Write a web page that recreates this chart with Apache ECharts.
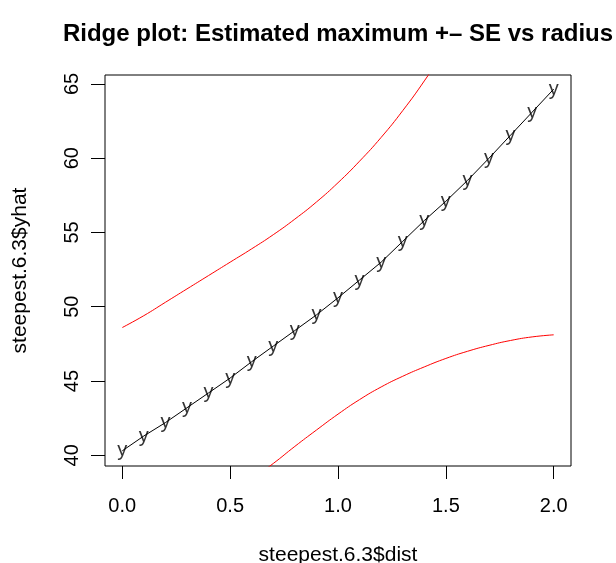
<!DOCTYPE html>
<html>
<head>
<meta charset="utf-8">
<script src="https://cdn.jsdelivr.net/npm/echarts@6/dist/echarts.min.js"></script>
<style>
  html, body { margin: 0; padding: 0; background: #fff; }
  #chart { width: 616px; height: 563px; }
</style>
</head>
<body>
<div id="chart"></div>
<script>
// values
const dist = [0, 0.1, 0.2, 0.3, 0.4, 0.5, 0.6, 0.7, 0.8, 0.9, 1.0, 1.1, 1.2, 1.3, 1.4, 1.5, 1.6, 1.7, 1.8, 1.9, 2.0];
const yhat = [40.3, 41.3, 42.2, 43.2, 44.2, 45.2, 46.3, 47.35, 48.4, 49.45, 50.6, 51.8, 53.0, 54.4, 55.8, 57.1, 58.5, 60.0, 61.55, 63.1, 64.65];
const upper = [48.6, 49.4, 50.3, 51.2, 52.1, 53.0, 53.9, 54.85, 55.9, 57.05, 58.35, 59.8, 61.4, 63.2, 65.2, 67.4, 69.8, 72.4, 75.2, 78.2, 81.4];
const lower = [32.0, 33.2, 34.05, 35.1, 36.2, 37.3, 38.4, 39.45, 40.6, 41.7, 42.77, 43.75, 44.6, 45.32, 45.95, 46.52, 47.0, 47.4, 47.73, 47.97, 48.11];
const xTicks = [0, 0.5, 1.0, 1.5, 2.0];
const yTicks = [40, 45, 50, 55, 60, 65];

const pairs = (ys) => dist.map((d, i) => [d, ys[i]]);
const font = 'Liberation Sans, Arial, sans-serif';

let myChart = echarts.init(document.getElementById('chart'));
let option = {
  animation: false,
  title: {
    text: 'Ridge plot: Estimated maximum +\u2013 SE vs radius',
    left: 333,
    textAlign: 'center',
    top: 17,
    textStyle: { fontFamily: font, fontSize: 24, fontWeight: 'bold', color: '#000' }
  },
  grid: {
    left: 105, right: 45, top: 75, bottom: 97,
    outerBoundsMode: 'none',
    show: true, borderColor: '#000', borderWidth: 1, backgroundColor: 'transparent'
  },
  xAxis: {
    type: 'value',
    min: -0.08,
    max: 2.08,
    name: 'steepest.6.3$dist',
    nameLocation: 'middle',
    nameGap: 79,
    nameTextStyle: { fontFamily: font, fontSize: 21, color: '#000' },
    axisLine: { show: false, onZero: false },
    splitLine: { show: false },
    axisTick: { show: true, inside: false, length: 13, customValues: xTicks, lineStyle: { color: '#000' } },
    axisLabel: {
      customValues: xTicks, margin: 30, fontFamily: font, fontSize: 20, color: '#000',
      formatter: v => v.toFixed(1)
    }
  },
  yAxis: {
    type: 'value',
    min: 39.28,
    max: 65.6,
    name: 'steepest.6.3$yhat',
    nameLocation: 'middle',
    nameRotate: 90,
    nameGap: 74,
    nameTextStyle: { fontFamily: font, fontSize: 21, color: '#000' },
    axisLine: { show: false, onZero: false },
    splitLine: { show: false },
    axisTick: { show: true, inside: false, length: 14, customValues: yTicks, lineStyle: { color: '#000' } },
    axisLabel: { customValues: yTicks, rotate: 90, margin: 23, fontFamily: font, fontSize: 20, color: '#000' }
  },
  series: [
    {
      name: 'upper',
      type: 'line',
      data: pairs(upper),
      showSymbol: false,
      smooth: true,
      clip: true,
      lineStyle: { color: '#ff0000', width: 1 }
    },
    {
      name: 'lower',
      type: 'line',
      data: pairs(lower),
      showSymbol: false,
      smooth: true,
      clip: true,
      lineStyle: { color: '#ff0000', width: 1 }
    },
    {
      name: 'yhat',
      type: 'line',
      data: pairs(yhat),
      showSymbol: false,
      lineStyle: { color: '#000', width: 1 }
    },
    {
      name: 'yhat-pts',
      type: 'scatter',
      data: pairs(yhat),
      symbol: 'circle',
      symbolSize: 1,
      itemStyle: { color: 'rgba(0,0,0,0)' },
      label: {
        show: true, position: 'inside', formatter: 'y',
        fontFamily: font, fontSize: 20, color: '#000'
      }
    }
  ]
};
myChart.setOption(option);
window.addEventListener('resize', function () { myChart.resize() })
</script>
</body>
</html>
